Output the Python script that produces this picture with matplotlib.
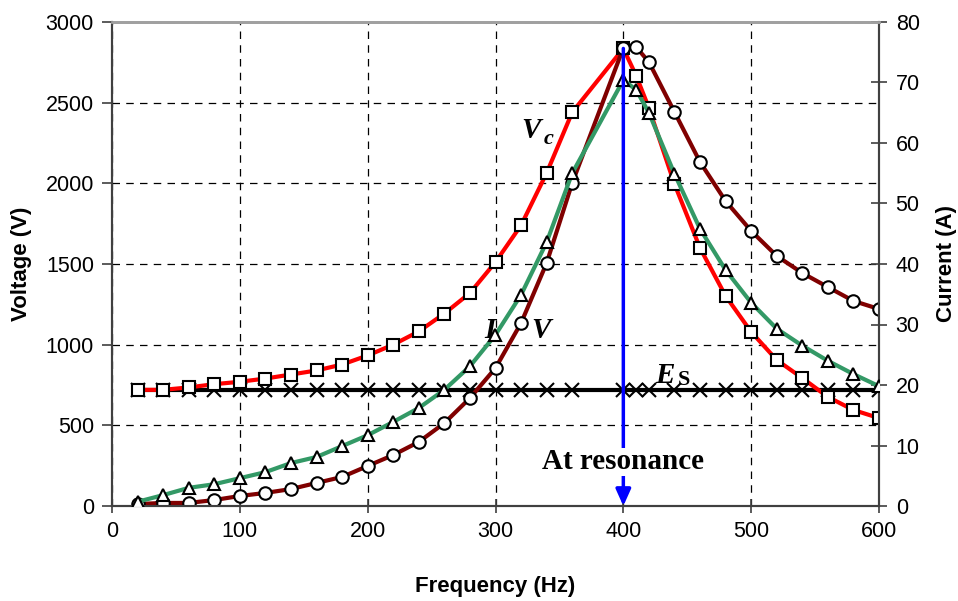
import matplotlib
matplotlib.use("Agg")
import matplotlib.pyplot as plt

# ---- data ----
freq = [20, 40, 60, 80, 100, 120, 140, 160, 180, 200, 220, 240, 260, 280, 300,
        320, 340, 360, 400, 410, 420, 440, 460, 480, 500, 520, 540, 560, 580, 600]
vc = [720, 720, 735, 755, 770, 790, 815, 840, 877, 933, 1000, 1082, 1193, 1320, 1512,
      1740, 2064, 2440, 2836, 2668, 2467, 1996, 1599, 1302, 1079, 905, 793, 676, 595, 545]
v = [12, 19, 19, 37, 62, 81, 105, 143, 180, 248, 316, 397, 514, 669, 855,
     1134, 1506, 2002, 2839, 2845, 2752, 2442, 2132, 1890, 1705, 1550, 1444, 1357, 1271, 1221]
current = [0.7, 1.8, 3.0, 3.6, 4.6, 5.6, 7.1, 8.1, 9.9, 11.7, 13.9, 16.2, 19.2, 23.1, 28.3,
           34.9, 43.6, 55.0, 70.4, 68.8, 65.0, 54.9, 45.8, 39.0, 33.6, 29.3, 26.5, 24.0, 21.8, 19.8]
es = [720, 720, 720, 720, 720, 720, 720, 720, 720, 720, 720, 720, 720, 720, 720,
      720, 720, 720, 720, 720, 720, 720, 720, 720, 720, 720, 720, 720, 720, 720]
resonance_f = 400
resonance_v = 2836

xticks = [0, 100, 200, 300, 400, 500, 600]
yticks_left = [0, 500, 1000, 1500, 2000, 2500, 3000]
yticks_right = [0, 10, 20, 30, 40, 50, 60, 70, 80]

plt.rcParams['font.family'] = ['Liberation Sans', 'DejaVu Sans']

fig = plt.figure(figsize=(9.58, 6.01), dpi=100)
ax = fig.add_axes([112/958, 95/601, 767/958, 484/601])
ax2 = ax.twinx()

ax.set_xlim(0, 600)
ax.set_ylim(0, 3000)
ax2.set_ylim(0, 80)

ax.set_xticks(xticks)
ax.set_yticks(yticks_left)
ax2.set_yticks(yticks_right)

ax.grid(True, linestyle=(0, (6, 5)), color='black', linewidth=0.9)
ax.set_axisbelow(True)

mk = dict(markerfacecolor='white', markeredgecolor='black', markersize=9, markeredgewidth=1.5)

ax.plot(freq, es, color='black', linewidth=3, marker='x', markersize=10,
        markeredgewidth=1.5, markeredgecolor='black', zorder=3)
ax.plot(freq, vc, color='#FF0000', linewidth=3, marker='s', zorder=4, **mk)
ax.plot(freq, v, color='#800000', linewidth=3, marker='o', zorder=4, **mk)
ax2.plot(freq, current, color='#339966', linewidth=3, marker='^', zorder=4, **mk)

# resonance arrow
ax2.annotate('', xy=(resonance_f, 0), xytext=(resonance_f, resonance_v * 80 / 3000),
             arrowprops=dict(arrowstyle='-|>,head_length=1.0,head_width=0.45', color='#0000FF',
                             lw=2.5, shrinkA=0, shrinkB=0), zorder=6)
ax2.text(400, 7.3, 'At resonance', fontsize=21, fontweight='bold', family='Liberation Serif',
         ha='center', va='center', zorder=7,
         bbox=dict(facecolor='white', edgecolor='none', pad=0.5))

serif = dict(family='Liberation Serif', fontweight='bold', fontstyle='italic', fontsize=21, zorder=7)
ax.text(320, 2325, 'V', ha='left', va='center', **serif)
ax.text(338, 2275, 'c', ha='left', va='center', **dict(serif, fontsize=16))
ax.text(291, 1085, 'I', ha='left', va='center', **serif)
ax.text(328, 1085, 'V', ha='left', va='center', **serif)
ax.text(425, 810, 'E', ha='left', va='center', **serif)
ax.text(443, 780, 'S', ha='left', va='center', **dict(serif, fontsize=16, fontstyle='normal'))

# spines / ticks
for a in (ax, ax2):
    a.spines['top'].set_color('#A0A0A0')
    a.spines['top'].set_linewidth(2)
    a.spines['left'].set_color('#404040')
    a.spines['right'].set_color('#404040')
    a.spines['bottom'].set_color('#404040')
    for s in ('left', 'right', 'bottom'):
        a.spines[s].set_linewidth(1.5)

ax.tick_params(axis='both', direction='inout', length=10, width=1.2, color='#404040',
               labelsize=15.5, pad=6)
ax.tick_params(axis='y', direction='out', length=7)
ax2.tick_params(axis='y', direction='inout', length=12, width=1.2, color='#404040',
                labelsize=15.5, pad=6)

ax.set_xlabel('Frequency (Hz)', fontsize=16, fontweight='bold', labelpad=24)
ax.set_ylabel('Voltage (V)', fontsize=16, fontweight='bold', labelpad=10)
ax2.set_ylabel('Current (A)', fontsize=16, fontweight='bold', labelpad=12)

fig.savefig('out.png', dpi=100, facecolor='white')
